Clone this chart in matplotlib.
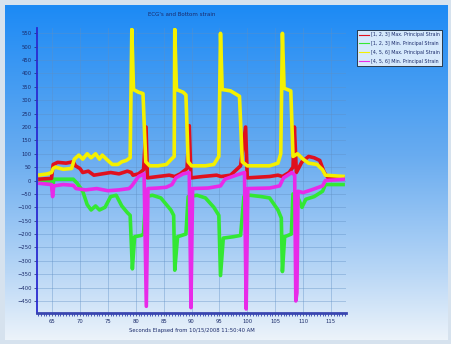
import numpy as np
import matplotlib
matplotlib.use("Agg")
import matplotlib.pyplot as plt
from matplotlib.lines import Line2D

# series (seconds, strain)
t_red = [62.5, 64.9, 65.2, 66.0, 67.5, 68.8, 69.2, 70.0, 70.5, 71.5, 72.5, 74.0, 75.5, 77.0, 78.5,
         79.2, 79.5, 80.5, 81.4, 81.85, 82.1, 84.0, 86.0, 87.0, 88.0, 89.2, 89.6, 89.9, 92.0, 94.5,
         95.3, 97.0, 98.8, 99.7, 100.0, 104.0, 105.5, 106.3, 107.5, 108.2, 108.45, 108.8, 109.8,
         111.0, 112.0, 113.0, 113.8, 114.5, 117.5]
v_red = [5, 8, 60, 68, 65, 70, 55, 45, 30, 35, 20, 25, 30, 25, 35,
         30, 20, 25, 40, 200, 10, 15, 20, 15, 25, 45, 205, 10, 15, 20,
         15, 20, 55, 200, 10, 15, 20, 15, 30, 50, 200, 30, 70,
         90, 85, 75, 30, 10, 10]

t_green = [62.5, 64.9, 65.1, 65.3, 67.5, 68.8, 69.5, 70.5, 71.3, 72.0, 72.8, 73.5, 74.5, 75.5, 76.5,
           77.5, 78.5, 79.0, 79.4, 79.8, 81.0, 81.4, 81.8, 83.0, 84.5, 85.5, 86.3, 86.8, 87.0, 87.5,
           89.0, 89.4, 91.0, 92.5, 94.0, 94.9, 95.2, 95.7, 97.5, 98.8, 99.4, 100.5, 102.5, 104.0,
           105.5, 106.1, 106.3, 106.7, 107.9, 108.2, 109.0, 109.8, 110.5, 112.0, 113.5, 114.0, 117.5]
v_green = [-5, -5, -40, 5, 5, 5, -10, -40, -90, -110, -95, -110, -100, -60, -55,
           -95, -120, -130, -330, -210, -205, -200, -60, -55, -65, -90, -110, -130, -335, -210,
           -200, -60, -55, -65, -100, -130, -355, -215, -210, -205, -60, -55, -60, -65,
           -110, -140, -340, -210, -200, -50, -60, -100, -70, -60, -40, -15, -15]

t_yellow = [62.5, 64.2, 64.9, 65.2, 65.6, 67.0, 68.5, 69.0, 69.8, 70.5, 71.3, 72.0, 72.8, 73.5, 74.0,
            75.0, 75.8, 76.8, 77.5, 78.3, 79.0, 79.3, 79.6, 80.5, 81.3, 81.8, 82.5, 84.0, 85.5, 86.4,
            86.9, 87.0, 87.3, 88.5, 89.0, 89.4, 90.0, 92.5, 94.0, 94.9, 95.2, 95.5, 97.0, 98.6, 99.1,
            100.0, 104.0, 105.5, 106.0, 106.3, 106.6, 107.8, 108.2, 109.0, 110.0, 111.0, 112.5,
            113.5, 114.0, 117.5]
v_yellow = [20, 25, 30, 45, 50, 42, 45, 80, 95, 80, 100, 85, 100, 80, 95,
            75, 60, 60, 70, 75, 85, 565, 340, 330, 325, 70, 55, 55, 60, 80,
            90, 565, 340, 330, 320, 70, 55, 55, 60, 90, 550, 340, 335, 315, 70,
            55, 55, 65, 100, 550, 345, 335, 90, 100, 80, 65, 60,
            40, 20, 15]

t_magenta = [62.5, 64.9, 65.1, 65.3, 67.0, 68.8, 69.3, 71.0, 73.0, 75.0, 77.0, 78.8, 79.3, 80.5,
             81.5, 81.9, 82.2, 84.0, 85.5, 86.5, 87.2, 88.5, 89.6, 89.9, 90.2, 93.0, 95.2, 96.0,
             98.0, 99.5, 99.8, 100.1, 104.0, 105.8, 106.5, 108.0, 108.5, 108.7, 108.9, 109.1,
             110.0, 111.5, 113.5, 114.0, 117.5]
v_magenta = [-10, -15, -60, -20, -15, -18, -30, -35, -30, -38, -35, -30, -20, 15,
             25, -470, -30, -28, -25, -15, 10, 25, 30, -475, -30, -28, -20, 5,
             20, 30, -480, -30, -28, -20, 10, 30, 20, -450, -420, -40,
             -45, -35, -20, 0, 5]

labels = ["[1, 2, 3] Max. Principal Strain", "[1, 2, 3] Min. Principal Strain",
          "[4, 5, 6] Max. Principal Strain", "[4, 5, 6] Min. Principal Strain"]
colors = ["#e0101e", "#33e833", "#f4f000", "#e82ae8"]

W, H = 452, 344
fig = plt.figure(figsize=(W / 100, H / 100), dpi=100, facecolor="#d6e2ee")

# gradient panel behind everything
bg = fig.add_axes([5 / W, 4 / H, 443 / W, 335 / H], zorder=0)
stops = np.array([0.0, 0.45, 0.8, 1.0])
rgb = np.array([[28, 138, 245], [105, 172, 240], [185, 215, 246], [236, 243, 250]]) / 255
ramp = np.linspace(0, 1, 256)
grad = np.stack([np.interp(ramp, stops, rgb[:, c]) for c in range(3)], axis=1)[:, None, :]
bg.imshow(grad, aspect="auto", extent=[0, 1, 0, 1])
bg.axis("off")

ax = fig.add_axes([37 / W, 1 - 313 / H, 309 / W, 285 / H], zorder=1)
ax.set_facecolor("none")

series = [(t_green, v_green, colors[1]), (t_red, v_red, colors[0]),
          (t_yellow, v_yellow, colors[2]), (t_magenta, v_magenta, colors[3])]
for t, v, c in series:
    ax.plot(t, v, color=c, lw=2.6, solid_joinstyle="round", solid_capstyle="butt")

ax.set_xlim(62.3, 117.7)
ax.set_ylim(-495, 570)
ax.set_xticks(np.arange(65, 116, 5))
ax.set_yticks(np.arange(-450, 551, 50))
ax.set_xticks(np.arange(62.5, 117.6, 0.5), minor=True)
ax.grid(True, color="#5f8fc4", lw=0.5, alpha=0.55)
ax.set_axisbelow(True)

navy = "#1a2a6a"
ax.tick_params(axis="both", labelsize=3.8, colors=navy, length=2, width=0.5, pad=2)
ax.tick_params(axis="x", which="minor", length=2, width=0.6, color="#3040b0")
for s in ["top", "right"]:
    ax.spines[s].set_visible(False)
ax.spines["left"].set_color("#2a2ad0")
ax.spines["left"].set_linewidth(1.3)
ax.spines["bottom"].set_color("#3a46b0")
ax.spines["bottom"].set_linewidth(2.0)

ax.set_xlabel("Seconds Elapsed from 10/15/2008 11:50:40 AM", fontsize=3.8, color=navy, labelpad=3)
fig.text(182 / W, 1 - 14 / H, "ECG's and Bottom strain", fontsize=4, color=navy,
         ha="center", va="center")

handles = [Line2D([], [], color=c, lw=0.8) for c in colors]
leg = fig.legend(handles, labels, loc="upper left", bbox_to_anchor=(357 / W, 1 - 30 / H),
                 fontsize=3.4, frameon=True, fancybox=False, handlelength=2.0,
                 handletextpad=0.5, labelspacing=0.8, borderpad=0.5, borderaxespad=0)
leg.get_frame().set_edgecolor("black")
leg.get_frame().set_linewidth(0.6)
for txt in leg.get_texts():
    txt.set_color(navy)

fig.savefig("out.png", dpi=100, facecolor=fig.get_facecolor())
